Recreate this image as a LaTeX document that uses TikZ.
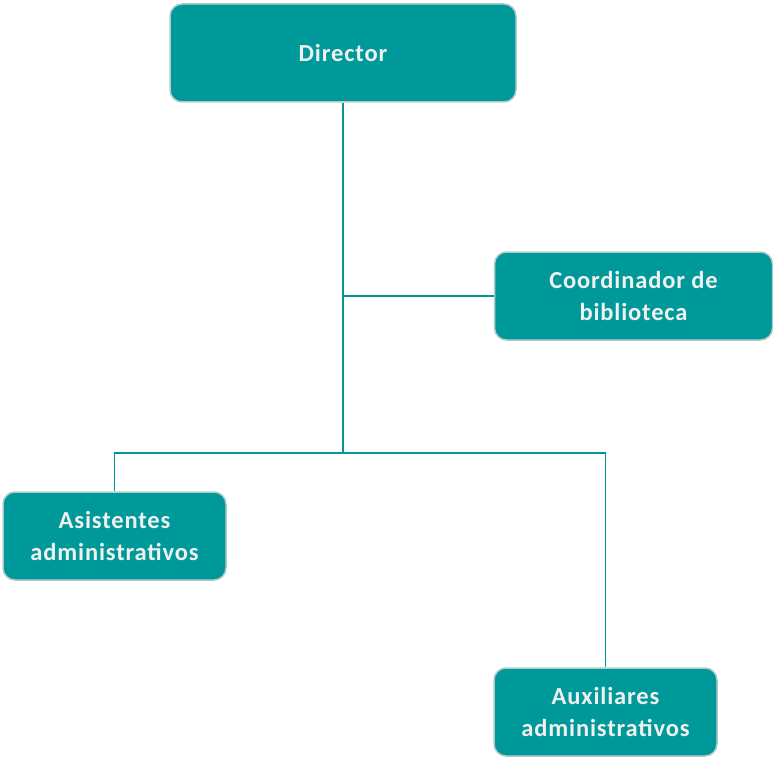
\documentclass[tikz,border=0pt]{standalone}
\usepackage{fontspec}
\setmainfont{Carlito}[LetterSpace=3.5]
\usepackage{tikz}
\usetikzlibrary{positioning,calc}
\definecolor{tealfill}{RGB}{0,153,153}
\definecolor{tealline}{RGB}{0,150,150}
\definecolor{boxedge}{RGB}{178,204,204}
\tikzset{
orgbox/.style = {draw=boxedge, line width=1.5pt, fill=tealfill, rectangle, rounded corners=12pt, align=center, text=white!94!black, font=\fontsize{24.5}{32}\selectfont\bfseries, inner sep=0pt, text depth=0pt},
link/.style = {draw=tealline, line width=1.6pt},
}

\begin{document}
\begin{tikzpicture}[x=1pt, y=-1pt]
  \useasboundingbox (0,0) rectangle (773,757);
  \node [orgbox, minimum width=346pt, minimum height=98pt] (dir) at (343,53) {Director};
  \node [orgbox, minimum width=278pt, minimum height=88pt] (coord) at (633.5,296) {Coordinador de\\biblioteca};
  \node [orgbox, minimum width=223pt, minimum height=88pt] (asis) at (114.5,536) {Asistentes\\administrativos};
  \node [orgbox, minimum width=223pt, minimum height=88pt] (aux) at (605.5,712) {Auxiliares\\administrativos};
  \coordinate (mid) at (343,296);
  \coordinate (split) at (343,453);
  % connectors
  \draw [link] (dir.south) -- (split);
  \draw [link] (mid) -- (coord.west);
  \draw [link] (asis.north) |- (split) -| (aux.north);
\end{tikzpicture}
\end{document}
